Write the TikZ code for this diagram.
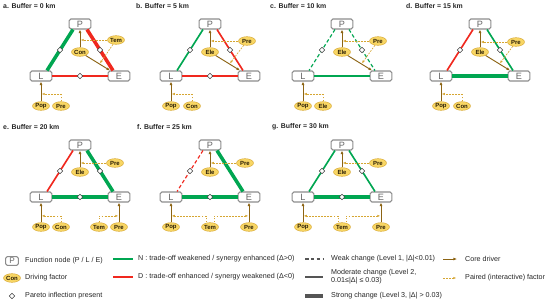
\documentclass[tikz,border=0pt]{standalone}
\usepackage{fontspec}
\setmainfont{Liberation Sans}
\usetikzlibrary{arrows.meta,calc,positioning,shapes.geometric}

\definecolor{syngreen}{RGB}{0,166,81}
\definecolor{trared}{RGB}{240,40,30}
\definecolor{drvbrown}{RGB}{140,100,20}
\definecolor{pairgold}{RGB}{214,166,50}
\definecolor{factfill}{RGB}{248,214,100}
\definecolor{boxgray}{RGB}{140,140,140}
\definecolor{lgray}{RGB}{85,85,85}

\tikzset{
  fnbox/.style={draw=boxgray, line width=0.9pt, rounded corners=1.5pt, fill=white,
    minimum width=18.5pt, minimum height=8.5pt, inner sep=0pt, text=black!60,
    font=\fontsize{7.8}{8}\selectfont},
  factor/.style={ellipse, draw=pairgold, line width=0.4pt, fill=factfill,
    minimum width=14.5pt, minimum height=7.4pt, inner sep=0pt,
    text=black!70!drvbrown, font=\bfseries\fontsize{5.1}{5.5}\selectfont},
  pareto/.style={diamond, solid, draw=black!75, fill=white, line width=0.5pt,
    minimum size=4.8pt, inner sep=0pt},
  ttl/.style={anchor=west, inner sep=0pt, text=black!85,
    font=\bfseries\fontsize{5.9}{7}\selectfont},
  lgd/.style={anchor=west, inner sep=0pt, align=left, text=black!85,
    font=\fontsize{6.1}{7}\selectfont},
  syn/.style={syngreen},
  tra/.style={trared},
  weak/.style={line width=1pt, dash pattern=on 3pt off 2pt},
  moderate/.style={line width=1.4pt},
  strong/.style={line width=3pt},
  core/.style={drvbrown, line width=0.8pt, -{Latex[length=3pt,width=2.5pt]}},
  paired/.style={pairgold, line width=0.55pt, dash pattern=on 1.6pt off 1pt,
    shorten >=0.6pt, -{Latex[length=2.6pt,width=2.1pt]}},
}

\begin{document}
\begin{tikzpicture}[x=0.03cm,y=-0.03cm]
\useasboundingbox (0,0) rectangle (550,303);

% titles and function nodes P, L, E of each buffer
\foreach \p/\tx/\lx/\py/\km in {a/3/41/24/0,b/136/171/24/5,c/270/303/24/10,d/406/441/24/15,
                                e/3/41/145/20,f/137/171/145/25,g/272/303/145/30}{
  \node[ttl] (\p T) at (\tx,\py-18) {\p. Buffer = \km\ km};
  \node[fnbox] (\p P) at (\lx+39,\py) {P};
  \node[fnbox] (\p L) at (\lx,\py+52) {L};
  \node[fnbox] (\p E) at (\lx+78,\py+52) {E};
}

% a. 0 km
\draw[syn,strong] ($(aP.south)+(-7,0)$) -- node[pareto] (aPL) {} ($(aL.north)+(6,0)$);
\draw[tra,strong] ($(aP.south)+(7,0)$) -- node[pareto] (aPE) {} ($(aE.north)+(-6,0)$);
\draw[tra,moderate] (aL) -- node[pareto] (aLE) {} (aE);
\node[factor] (aC) at (80,52) {Con};
\node[factor] (aS) at (116,40) {Tem};
\node[factor] (aB1) at (41,106) {Pop};
\node[factor] (aB2) at (61,106) {Pre};
\draw[core] (aC) -- (aP);
\draw[core] (aC) -- (aE);
\draw[core] (aB1) -- (aL);
\coordinate (aM) at ($(aC)!.5!(aE)$);
\coordinate (aK) at ($(aB1)!.4!(aL)$);
\draw[paired] (aS) -- (aS -| aP);
\draw[paired] (aS) -- (aM);
\draw[paired] (aB2) |- (aK);

% b. 5 km
\draw[syn,moderate] ($(bP.south)+(-7,0)$) -- node[pareto] (bPL) {} ($(bL.north)+(6,0)$);
\draw[tra,moderate] ($(bP.south)+(7,0)$) -- node[pareto] (bPE) {} ($(bE.north)+(-6,0)$);
\draw[tra,moderate] (bL) -- node[pareto] (bLE) {} (bE);
\node[factor] (bC) at (210,52) {Ele};
\node[factor] (bS) at (247,41) {Pre};
\node[factor] (bB1) at (171,106) {Pop};
\node[factor] (bB2) at (192,106) {Con};
\draw[core] (bC) -- (bP);
\draw[core] (bC) -- (bE);
\draw[core] (bB1) -- (bL);
\coordinate (bM) at ($(bC)!.5!(bE)$);
\coordinate (bK) at ($(bB1)!.4!(bL)$);
\draw[paired] (bS) -- (bS -| bP);
\draw[paired] (bS) -- (bM);
\draw[paired] (bB2) |- (bK);

% c. 10 km
\draw[syn,weak] ($(cP.south)+(-7,0)$) -- node[pareto] (cPL) {} ($(cL.north)+(6,0)$);
\draw[syn,weak] ($(cP.south)+(7,0)$) -- node[pareto] (cPE) {} ($(cE.north)+(-6,0)$);
\draw[syn,moderate] (cL) -- (cE);
\node[factor] (cC) at (342,52) {Ele};
\node[factor] (cS) at (378,41) {Pre};
\node[factor] (cB1) at (303,106) {Pop};
\node[factor] (cB2) at (323,106) {Ele};
\draw[core] (cC) -- (cP);
\draw[core] (cC) -- (cE);
\draw[core] (cB1) -- (cL);
\coordinate (cM) at ($(cC)!.5!(cE)$);
\coordinate (cK) at ($(cB1)!.4!(cL)$);
\draw[paired] (cS) -- (cS -| cP);
\draw[paired] (cS) -- (cM);
\draw[paired] (cB2) |- (cK);

% d. 15 km
\draw[tra,moderate] ($(dP.south)+(-7,0)$) -- node[pareto] (dPL) {} ($(dL.north)+(6,0)$);
\draw[syn,moderate] ($(dP.south)+(7,0)$) -- node[pareto] (dPE) {} ($(dE.north)+(-6,0)$);
\draw[syn,strong] (dL) -- (dE);
\node[factor] (dC) at (480,52) {Ele};
\node[factor] (dS) at (516,42) {Pre};
\node[factor] (dB1) at (441,106) {Pop};
\node[factor] (dB2) at (462,106) {Con};
\draw[core] (dC) -- (dP);
\draw[core] (dC) -- (dE);
\draw[core] (dB1) -- (dL);
\coordinate (dM) at ($(dC)!.5!(dE)$);
\coordinate (dK) at ($(dB1)!.4!(dL)$);
\draw[paired] (dS) -- (dS -| dP);
\draw[paired] (dS) -- (dM);
\draw[paired] (dB2) |- (dK);

% e. 20 km
\draw[tra,moderate] ($(eP.south)+(-7,0)$) -- node[pareto] (ePL) {} ($(eL.north)+(6,0)$);
\draw[syn,strong] ($(eP.south)+(7,0)$) -- node[pareto] (ePE) {} ($(eE.north)+(-6,0)$);
\draw[syn,strong] (eL) -- node[pareto] (eLE) {} (eE);
\node[factor] (eC) at (80,172) {Ele};
\node[factor] (eS) at (115,163) {Pre};
\node[factor] (eB1) at (41,227) {Pop};
\node[factor] (eB2) at (61,227) {Con};
\node[factor] (eB3) at (99,227) {Tem};
\node[factor] (eB4) at (119,227) {Pre};
\draw[core] (eC) -- (eP);
\draw[core] (eB1) -- (eL);
\draw[core] (eB4) -- (eE);
\coordinate (eK1) at ($(eB1)!.37!(eL)$);
\coordinate (eK2) at ($(eB4)!.37!(eE)$);
\draw[paired] (eS) -- (eS -| eP);
\draw[paired] (eB2) |- (eK1);
\draw[paired] (eB3) |- (eK2);

% f. 25 km
\draw[tra,weak] ($(fP.south)+(-7,0)$) -- node[pareto] (fPL) {} ($(fL.north)+(6,0)$);
\draw[syn,strong] ($(fP.south)+(7,0)$) -- ($(fE.north)+(-6,0)$);
\draw[syn,strong] (fL) -- node[pareto] (fLE) {} (fE);
\node[factor] (fC) at (210,172) {Ele};
\node[factor] (fS) at (245,163) {Pre};
\node[factor] (fB1) at (171,227) {Pop};
\node[factor] (fB2) at (210,227) {Tem};
\node[factor] (fB3) at (249,227) {Pre};
\draw[core] (fC) -- (fP);
\draw[core] (fB1) -- (fL);
\draw[core] (fB3) -- (fE);
\coordinate (fK1) at ($(fB1)!.37!(fL)$);
\coordinate (fK2) at ($(fB3)!.37!(fE)$);
\draw[paired] (fS) -- (fS -| fP);
\draw[paired] ($(fB2.north)+(-4,0)$) |- (fK1);
\draw[paired] ($(fB2.north)+(4,0)$) |- (fK2);

% g. 30 km
\draw[syn,moderate] ($(gP.south)+(-7,0)$) -- node[pareto] (gPL) {} ($(gL.north)+(6,0)$);
\draw[syn,moderate] ($(gP.south)+(7,0)$) -- node[pareto] (gPE) {} ($(gE.north)+(-6,0)$);
\draw[syn,strong] (gL) -- node[pareto] (gLE) {} (gE);
\node[factor] (gC) at (342,172) {Ele};
\node[factor] (gS) at (378,163) {Pre};
\node[factor] (gB1) at (303,227) {Pop};
\node[factor] (gB2) at (342,227) {Tem};
\node[factor] (gB3) at (381,227) {Pre};
\draw[core] (gC) -- (gP);
\draw[core] (gB1) -- (gL);
\draw[core] (gB3) -- (gE);
\coordinate (gK1) at ($(gB1)!.37!(gL)$);
\coordinate (gK2) at ($(gB3)!.37!(gE)$);
\draw[paired] (gS) -- (gS -| gP);
\draw[paired] ($(gB2.north)+(-4,0)$) |- (gK1);
\draw[paired] ($(gB2.north)+(4,0)$) |- (gK2);

% legend
\node[fnbox, minimum width=11pt, minimum height=7.5pt, font=\fontsize{7}{8}\selectfont] (lgP) at (12,261) {P};
\node[lgd] (lgPt) at (25,261) {Function node (P / L / E)};
\node[factor] (lgC) at (12,278) {Con};
\node[lgd] (lgCt) at (25,278) {Driving factor};
\node[pareto] (lgX) at (12,296) {};
\node[lgd] (lgXt) at (25,296) {Pareto inflection present};

\node[lgd] (lgN) at (138,259) {N : trade-off weakened / synergy enhanced (Δ>0)};
\node[lgd] (lgD) at (138,277) {D : trade-off enhanced / synergy weakened (Δ<0)};
\draw[syn,moderate] ($(lgN.west)+(-25,0)$) -- ($(lgN.west)+(-5,0)$);
\draw[tra,moderate] ($(lgD.west)+(-25,0)$) -- ($(lgD.west)+(-5,0)$);

\node[lgd] (lgW) at (331,259) {Weak change (Level 1, |Δ|<0.01)};
\node[lgd] (lgM) at (331,277) {Moderate change (Level 2,\\0.01≤|Δ| ≤ 0.03)};
\node[lgd] (lgS) at (331,296) {Strong change (Level 3, |Δ| > 0.03)};
\draw[lgray,weak] ($(lgW.west)+(-26,0)$) -- ($(lgW.west)+(-8,0)$);
\draw[lgray,moderate] ($(lgM.west)+(-26,0)$) -- ($(lgM.west)+(-8,0)$);
\draw[lgray,strong] ($(lgS.west)+(-26,0)$) -- ($(lgS.west)+(-8,0)$);

\node[lgd] (lgR) at (465,259) {Core driver};
\node[lgd] (lgF) at (465,278) {Paired (interactive) factor};
\draw[core] ($(lgR.west)+(-22,0)$) -- ($(lgR.west)+(-8,0)$);
\draw[paired] ($(lgF.west)+(-22,0)$) -- ($(lgF.west)+(-8,0)$);
\end{tikzpicture}
\end{document}
